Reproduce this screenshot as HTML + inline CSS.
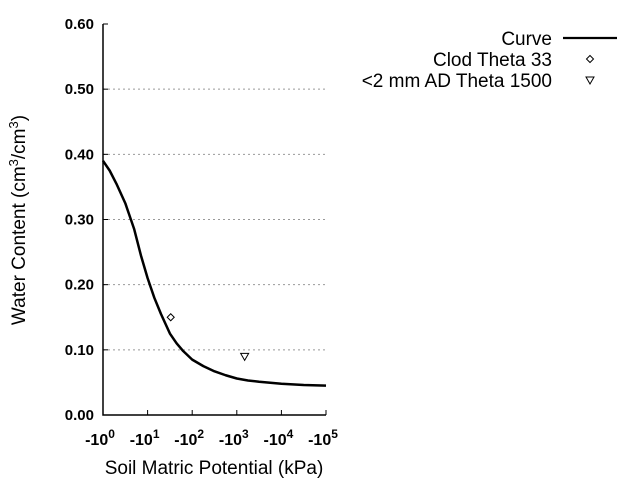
<!DOCTYPE html>
<html><head><meta charset="utf-8"><style>body{margin:0;background:#fff}svg{display:block;font-family:"Liberation Sans",sans-serif}</style></head>
<body>
<svg id="c" width="640" height="480"></svg>
<script>
const yTicks=[0,0.1,0.2,0.3,0.4,0.5,0.6];
const yTickLabels=["0.00","0.10","0.20","0.30","0.40","0.50","0.60"];
const xTickExp=[0,1,2,3,4,5];
const curveLogH=[0,0.15,0.3,0.5,0.7,0.85,1,1.15,1.3,1.5,1.65,1.8,2,2.25,2.5,2.75,3,3.25,3.5,4,4.5,5];
const curveTheta=[0.39,0.375,0.355,0.325,0.285,0.245,0.21,0.18,0.155,0.125,0.11,0.098,0.085,0.075,0.067,0.061,0.056,0.053,0.051,0.048,0.046,0.045];
const pointH=[33,1500];
const pointTheta=[0.15,0.09];
const NS="http://www.w3.org/2000/svg",svg=document.getElementById('c');
const X0=103,X1=326,Y0=415,Y1=24;
const xs=l=>X0+(l-0)/(5-0)*(X1-X0);
const ys=v=>Y0-(v/0.6)*(Y0-Y1);
function el(t,a,p){const e=document.createElementNS(NS,t);for(const k in a)e.setAttribute(k,a[k]);(p||svg).appendChild(e);return e;}
yTicks.forEach((v,i)=>{
 if(v>0&&v<0.6){const g=el('line',{x1:X0,x2:X1,y1:ys(v),y2:ys(v),stroke:'#999','stroke-dasharray':'2,3'});
 
 }
 const t=el('line',{x1:X0,x2:X0+5,y1:ys(v),y2:ys(v),stroke:'#000'});
 
 
 const l=el('text',{x:X0-9,y:ys(v)+5,'text-anchor':'end','font-size':15,'font-weight':'bold'});l.textContent=yTickLabels[i];
 
 
});
xTickExp.forEach(e=>{
 const t=el('line',{x1:xs(e),x2:xs(e),y1:Y0,y2:Y0-5,stroke:'#000'});
 
 
 const l=el('text',{x:xs(e)-3,y:Y0+30,'text-anchor':'middle','font-size':16,'font-weight':'bold'});
 l.innerHTML='-10<tspan dy="-7" font-size="12">'+e+'</tspan>';
 
 
});
const ax=el('path',{d:`M${X0},${Y1}V${Y0}H${X1}`,fill:'none',stroke:'#000','stroke-width':1.5});


const cv=el('polyline',{points:curveLogH.map((l,i)=>xs(l)+','+ys(curveTheta[i])).join(' '),fill:'none',stroke:'#000','stroke-width':2.5,'stroke-linejoin':'round'});


const d1=(x,y)=>`M${x},${y-3.5}L${x+3.5},${y}L${x},${y+3.5}L${x-3.5},${y}Z`;
const tr=(x,y)=>`M${x-4},${y-3}H${x+4}L${x},${y+4}Z`;
pointH.forEach((h,i)=>{
 const x=xs(Math.log10(h)),y=ys(pointTheta[i]);
 const p=el('path',{d:i==0?d1(x,y):tr(x,y),fill:'none',stroke:'#000','stroke-width':1});
 
 
});
const leg=[["Curve",38],["Clod Theta 33",59],["<2 mm AD Theta 1500",80]];
leg.forEach((r,i)=>{
 const t=el('text',{x:552,y:r[1]+7,'text-anchor':'end','font-size':19});t.textContent=r[0];
 
 
});
el('line',{x1:563,x2:617,y1:38,y2:38,stroke:'#000','stroke-width':2.2});
el('path',{d:d1(590,59),fill:'none',stroke:'#000'});
el('path',{d:tr(590,80),fill:'none',stroke:'#000'});
const xt=el('text',{x:214,y:474,'text-anchor':'middle','font-size':19});xt.textContent='Soil Matric Potential (kPa)';


const yt=el('text',{x:0,y:0,'text-anchor':'middle','font-size':19,transform:'translate(25,220) rotate(-90)'});
yt.innerHTML='Water Content (cm<tspan dy="-7" font-size="13">3</tspan><tspan dy="7">/cm</tspan><tspan dy="-7" font-size="13">3</tspan><tspan dy="7">)</tspan>';


</script>
</body></html>
